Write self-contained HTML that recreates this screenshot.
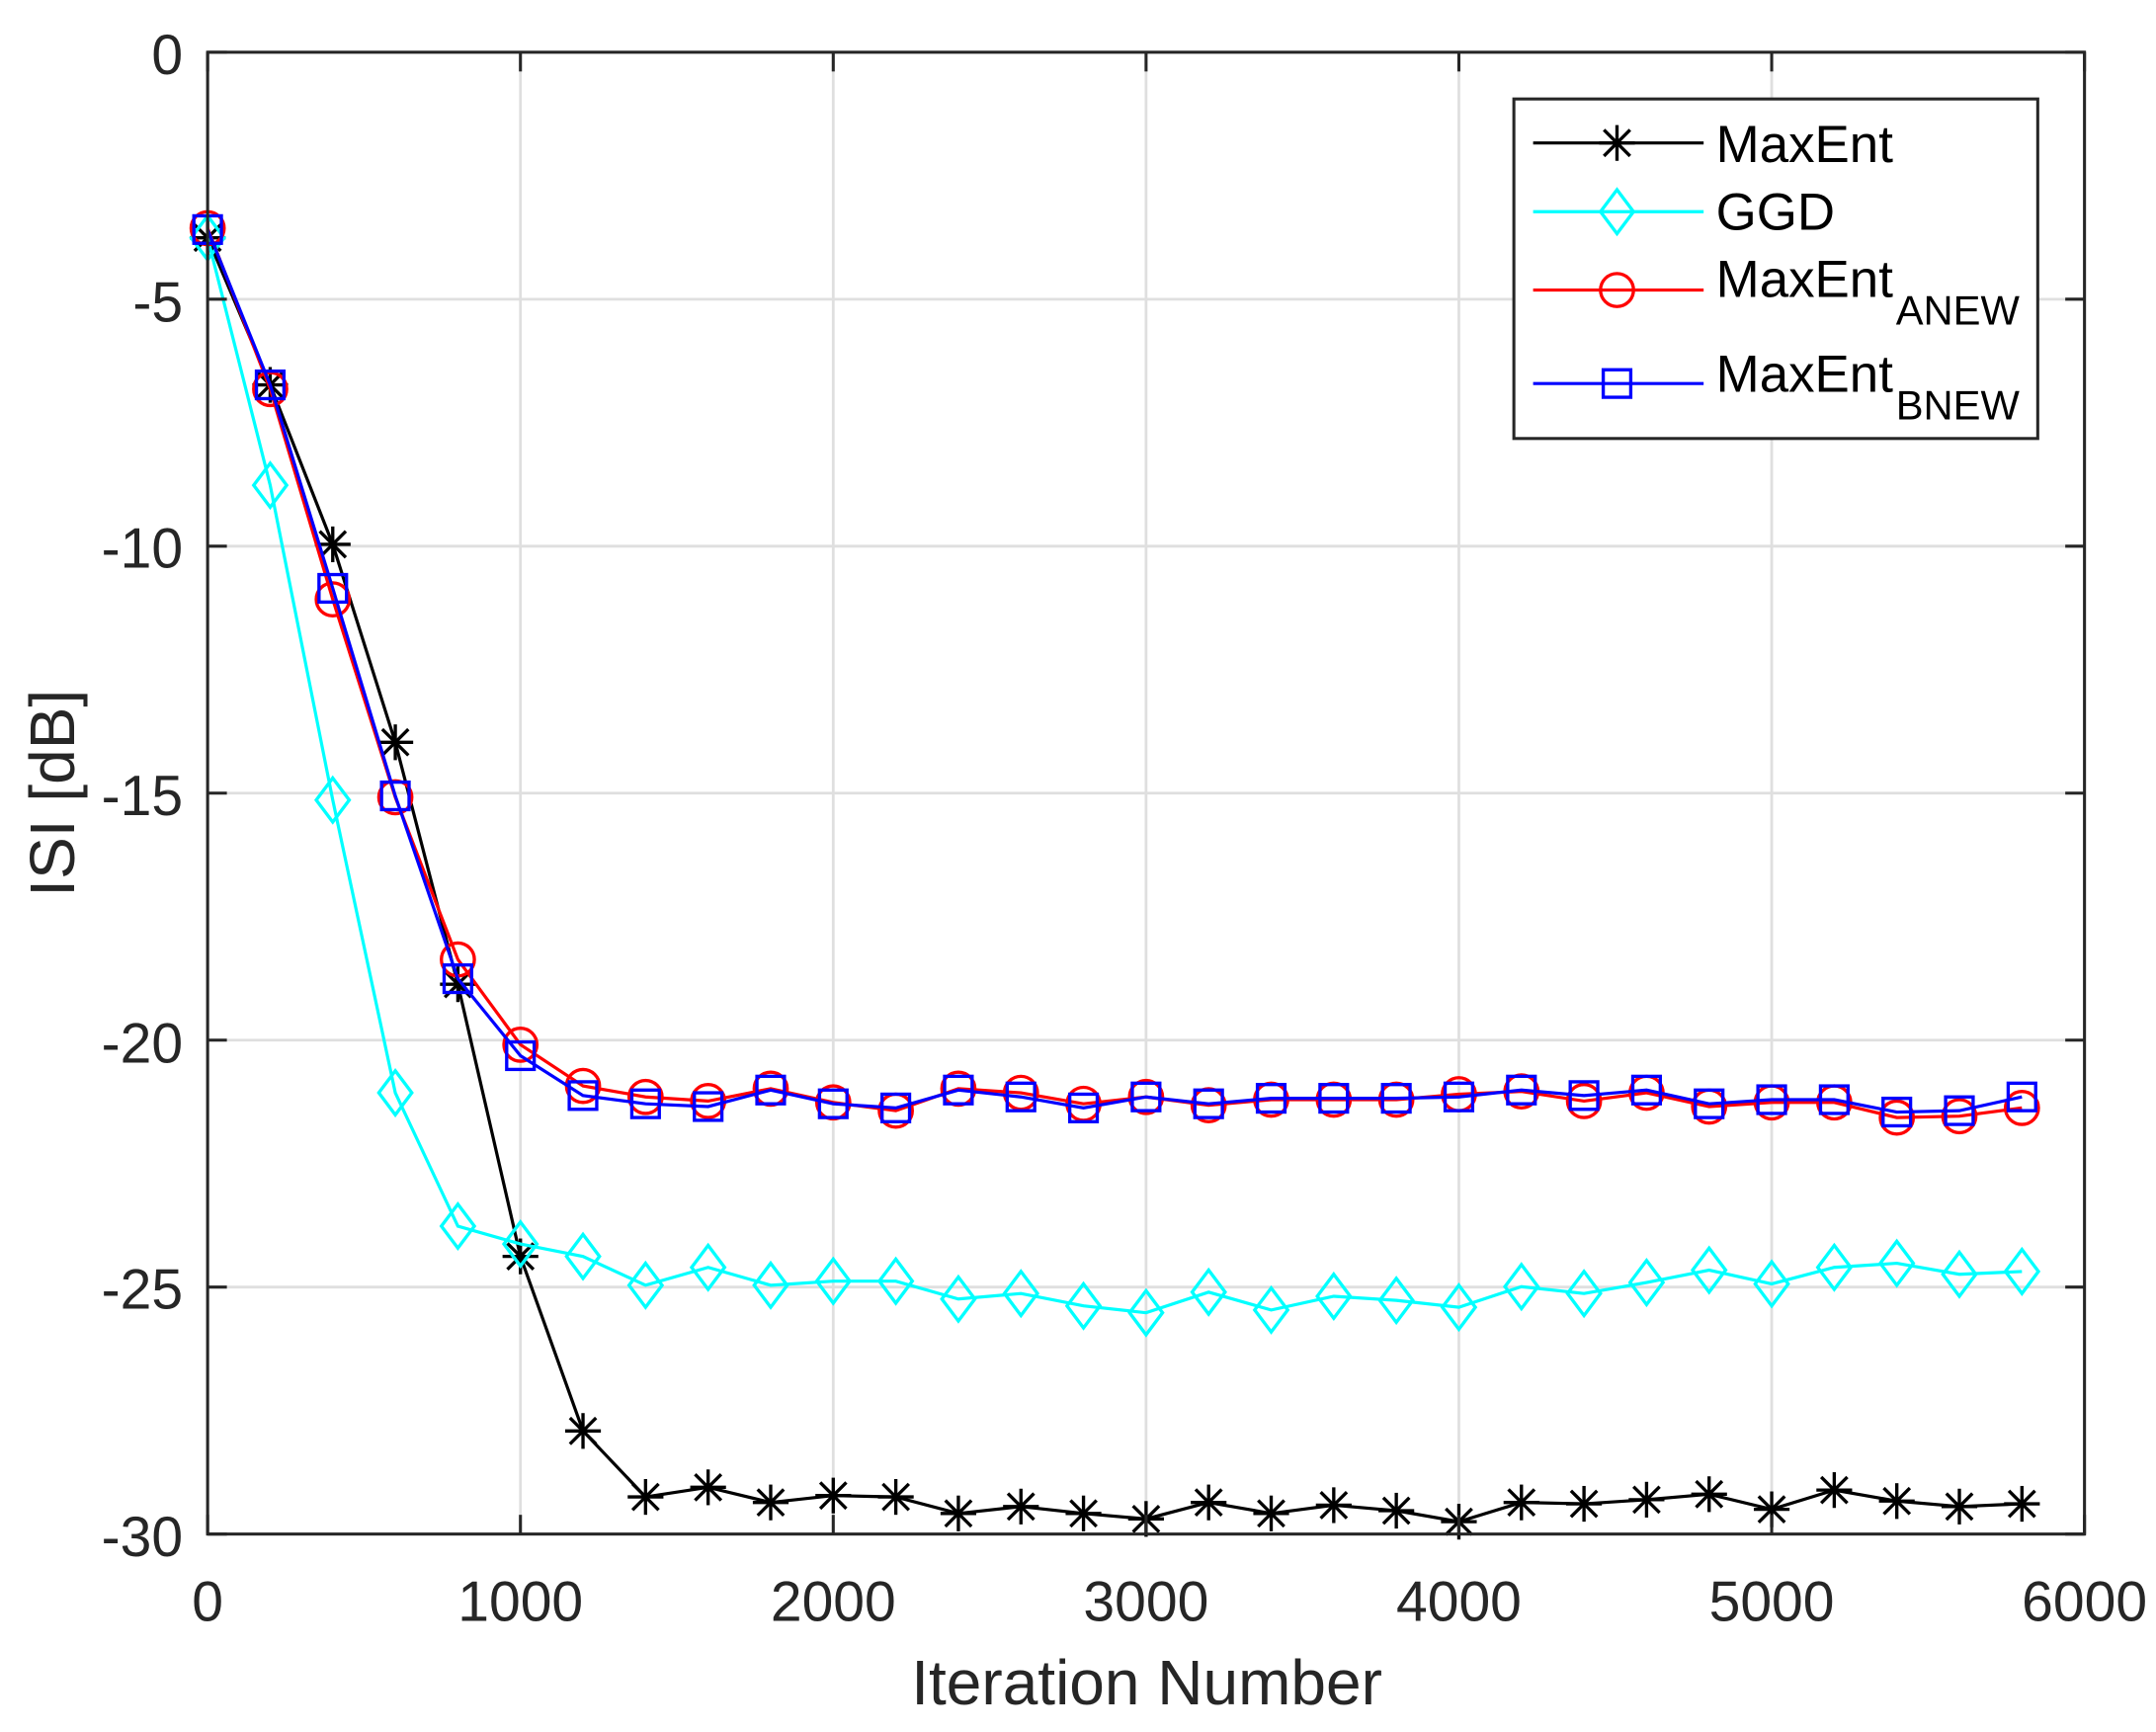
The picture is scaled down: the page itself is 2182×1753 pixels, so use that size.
<!DOCTYPE html>
<html><head><meta charset="utf-8"><style>html,body{margin:0;padding:0;background:#fff;overflow:hidden;width:2182px;height:1753px}svg{display:block}</style></head>
<body>
<svg id="s" width="2182" height="1753" viewBox="0 0 1568 1260" preserveAspectRatio="none" xmlns="http://www.w3.org/2000/svg" font-family="Liberation Sans, sans-serif">
<rect width="1568" height="1260" fill="#fff"/>
<g id="grid" stroke="#dfdfdf" stroke-width="2"></g>
<g id="data"></g>
<rect x="151" y="38" width="1365" height="1078" fill="none" stroke="#262626" stroke-width="2.2"/>
<g id="ticks" stroke="#262626" stroke-width="2.2"></g>
<g fill="#262626" font-size="41" text-anchor="middle">
<text x="151" y="1179">0</text><text x="378.5" y="1179">1000</text><text x="606" y="1179">2000</text><text x="833.5" y="1179">3000</text><text x="1061" y="1179">4000</text><text x="1288.5" y="1179">5000</text><text x="1516" y="1179">6000</text>
</g>
<g fill="#262626" font-size="41" text-anchor="end">
<text x="133" y="54">0</text><text x="133" y="234">-5</text><text x="133" y="413">-10</text><text x="133" y="593">-15</text><text x="133" y="773">-20</text><text x="133" y="952">-25</text><text x="133" y="1132">-30</text>
</g>
<text x="834" y="1240" font-size="46" fill="#262626" text-anchor="middle">Iteration Number</text>
<text transform="translate(54,577) rotate(-90)" font-size="46" fill="#262626" text-anchor="middle">ISI [dB]</text>
<rect x="1101" y="72" width="381" height="247" fill="#fff" stroke="#262626" stroke-width="2.2"/>
<g id="leg"></g>
<g font-size="38" fill="#000">
<text x="1248" y="118">MaxEnt</text>
<text x="1248" y="167">GGD</text>
<text x="1248" y="216">MaxEnt<tspan font-size="30" dx="2" dy="20">ANEW</tspan></text>
<text x="1248" y="285">MaxEnt<tspan font-size="30" dx="2" dy="20">BNEW</tspan></text>
</g>
</svg>
<script>
const NS="http://www.w3.org/2000/svg";
function el(p,t,a){const e=document.createElementNS(NS,t);for(const k in a)e.setAttribute(k,a[k]);p.appendChild(e);return e;}
const grid=document.getElementById('grid'),ticks=document.getElementById('ticks'),data=document.getElementById('data'),leg=document.getElementById('leg');
const DY=1078/6;
for(let i=1;i<6;i++){const x=151+i*227.5;el(grid,'line',{x1:x,x2:x,y1:38,y2:1116});}
for(let i=1;i<6;i++){const y=38+i*DY;el(grid,'line',{x1:151,x2:1516,y1:y,y2:y});}
for(let i=0;i<=6;i++){const x=151+i*227.5;el(ticks,'line',{x1:x,x2:x,y1:1116,y2:1102});el(ticks,'line',{x1:x,x2:x,y1:38,y2:52});}
for(let i=0;i<=6;i++){const y=38+i*DY;el(ticks,'line',{x1:151,x2:165,y1:y,y2:y});el(ticks,'line',{x1:1516,x2:1502,y1:y,y2:y});}
const X=i=>151+i*200*1365/6000;
const S={
k:[173,280,396,540,716,914,1041,1089,1082,1093,1088,1089,1101,1096,1101,1105,1093,1101,1095,1099,1107,1093,1094,1091,1087,1098,1084,1092,1096,1094],
c:[173,353,582,795,892,905,914,935,922,935,932,932,945,941,950,955,940,953,943,946,951,936,941,933,924,934,922,919,927,925],
r:[166,283,436,580,698,760,790,798,801,792,802,808,792,795,803,798,804,800,800,800,796,794,801,795,805,802,802,813,812,806],
b:[167,280,428,579,712,768,797,803,805,793,803,806,793,798,806,798,803,799,799,799,798,793,797,793,803,800,800,809,808,798]};
const col={k:'#000',c:'#00ffff',r:'#ff0000',b:'#0000ff'};
function mark(g,t,x,y){const c=col[t];
 if(t=='k'){const r=13,d=9.5;[[0,-r,0,r],[-r,0,r,0],[-d,-d,d,d],[-d,d,d,-d]].forEach(a=>el(g,'line',{x1:x+a[0],y1:y+a[1],x2:x+a[2],y2:y+a[3],stroke:c,'stroke-width':2.4}));}
 if(t=='c')el(g,'polygon',{points:`${x},${y-16} ${x+12},${y} ${x},${y+16} ${x-12},${y}`,fill:'none',stroke:c,'stroke-width':2.4});
 if(t=='r')el(g,'circle',{cx:x,cy:y,r:12,fill:'none',stroke:c,'stroke-width':2.4});
 if(t=='b')el(g,'rect',{x:x-10,y:y-10,width:20,height:20,fill:'none',stroke:c,'stroke-width':2.4});}
['k','c','r','b'].forEach(t=>{const ys=S[t];
 el(data,'polyline',{points:ys.map((y,i)=>X(i)+','+y).join(' '),fill:'none',stroke:col[t],'stroke-width':2.3});
 ys.forEach((y,i)=>mark(data,t,X(i),y));});
const ly={k:104,c:154,r:211,b:279};
['k','c','r','b'].forEach(t=>{el(leg,'line',{x1:1115,x2:1239,y1:ly[t],y2:ly[t],stroke:col[t],'stroke-width':2.3});mark(leg,t,1176,ly[t]);});
</script>
</body></html>
